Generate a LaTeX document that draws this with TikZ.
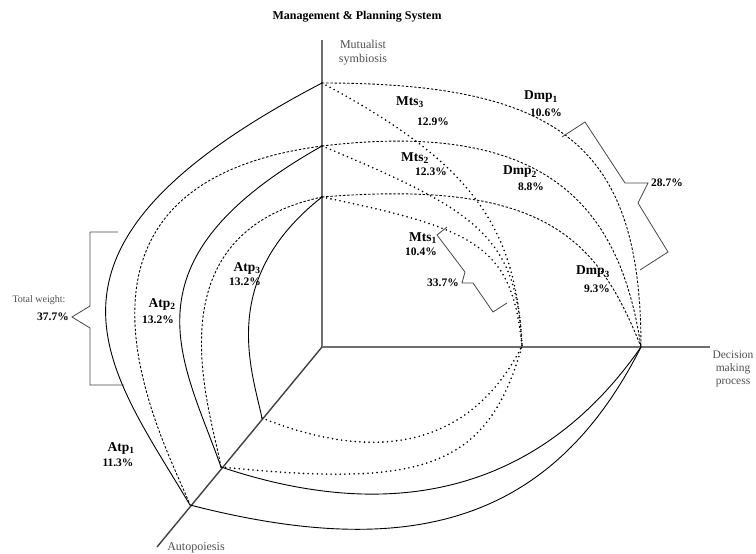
\documentclass[tikz,border=0pt]{standalone}
\usepackage{fontspec}
\setmainfont{Liberation Serif}
\usepackage{tikz}
\definecolor{axisink}{RGB}{110,110,110}
\definecolor{braceink}{RGB}{70,70,70}
\definecolor{captionink}{RGB}{80,80,80}
\newcommand{\wname}[2]{#1\textsubscript{#2}}

\begin{document}
\begin{tikzpicture}[x=1pt, y=-1pt,
  axisline/.style={axisink, line width=1.4pt},
  shell/.style={line width=0.9pt},
  dashshell/.style={line width=0.9pt, dash pattern=on 2.4pt off 1.8pt},
  dotshell/.style={line width=1.8pt, line cap=round, dash pattern=on 0pt off 4.6pt},
  bracket/.style={braceink, line width=0.8pt, line join=miter},
  wlabel/.style={inner sep=0pt, font=\fontsize{13.5}{15}\selectfont\bfseries},
  pct/.style={inner sep=0pt, font=\fontsize{11.5}{13}\selectfont\bfseries},
  caption/.style={inner sep=0pt, captionink, align=center, font=\fontsize{12}{13}\selectfont}]
  \useasboundingbox (0,0) rectangle (756,554);

  \coordinate (O) at (322,347);
  \coordinate (ztip) at (322,40);
  \coordinate (xtip) at (710,347);
  \coordinate (ytip) at (157,547);
  \coordinate (T1) at (322,83);
  \coordinate (T2) at (322,146);
  \coordinate (T3) at (322,197);
  \coordinate (A1) at (190,505);
  \coordinate (A2) at (221,467);
  \coordinate (A3) at (262,418);
  \coordinate (D) at (641,347);
  \coordinate (M) at (522,346);

  \draw[axisline] (O) -- (ztip);
  \draw[axisline] (O) -- (xtip);
  \draw[axisline, black!75] (O) -- (ytip);

  % autopoiesis wall
  \draw[shell] (T1) .. controls +(-318,166) and +(-82.5,-139) .. (A1);
  \draw[dashshell] (T2) .. controls +(-303,40) and +(-20,-53) .. (A1);
  \draw[shell] (T2) .. controls +(-206,116) and +(-37.5,-107) .. (A2);
  \draw[dashshell] (T3) .. controls +(-175,37.6) and +(-9.8,-56.3) .. (A2);
  \draw[shell] (T3) .. controls +(-104,82) and +(-10.4,-48.6) .. (A3);

  % decision wall
  \draw[dashshell] (T1) .. controls +(240,0) and +(0,-200) .. (D);
  \draw[dashshell] (T2) .. controls +(218,-26) and +(-22,-148) .. (D);
  \draw[dashshell] (T3) .. controls +(219,-17.6) and +(-44,-111.6) .. (D);
  \draw[dotshell] (T1) .. controls +(150,80) and +(-6,-120) .. (M);
  \draw[dotshell] (T2) .. controls +(156,65) and +(-5.5,-110) .. (M);
  \draw[dotshell] (T3) .. controls +(155,32) and +(-10,-100) .. (M);

  % floor
  \draw[shell] (A1) .. controls +(218,56) and +(-90,178) .. (D);
  \draw[shell] (A2) .. controls +(190,64) and +(-91,131) .. (D);
  \draw[dotshell] (A2) .. controls +(199,20) and +(-35,125) .. (M);
  \draw[dotshell] (A3) .. controls +(130,52) and +(-45,89) .. (M);

  \draw[bracket] (118,232) -- (90,232) -- (90,306) -- (72,317) coordinate (atptip) -- (90,328) -- (90,385) -- (124,385);
  \draw[bracket] (562,137) -- (585,122) -- (625,183) -- (648,183) coordinate (dmptip) -- (638,203) -- (668,252) -- (640,270);
  \draw[bracket] (447,227) -- (437,235) -- (465,272) -- (462,283) coordinate (mtstip) -- (473,283) -- (493,312) -- (507,303);

  \node[inner sep=0pt, font=\fontsize{12}{14}\selectfont\bfseries] (title) at (357,17) {Management \& Planning System};
  \node[caption, font=\fontsize{12}{14}\selectfont] (zname) at (363,53) {Mutualist\\symbiosis};
  \node[caption, font=\fontsize{11.5}{13}\selectfont] (xname) at (733,369) {Decision\\making\\process};
  \node[caption] (yname) at (196,548) {Autopoiesis};

  \node[wlabel] (mts3) at (410,102) {\wname{Mts}{3}};
  \node[pct] (mts3w) at (433,122) {12.9\%};
  \node[wlabel] (mts2) at (415,158) {\wname{Mts}{2}};
  \node[pct] (mts2w) at (431,172) {12.3\%};
  \node[wlabel] (mts1) at (423,238) {\wname{Mts}{1}};
  \node[pct] (mts1w) at (421,252) {10.4\%};
  \node[wlabel] (dmp1) at (541,97) {\wname{Dmp}{1}};
  \node[pct] (dmp1w) at (546,113) {10.6\%};
  \node[wlabel] (dmp2) at (520,172) {\wname{Dmp}{2}};
  \node[pct] (dmp2w) at (531,187) {8.8\%};
  \node[wlabel] (dmp3) at (593,272) {\wname{Dmp}{3}};
  \node[pct] (dmp3w) at (597,289) {9.3\%};
  \node[wlabel] (atp3) at (247,268) {\wname{Atp}{3}};
  \node[pct] (atp3w) at (245,282) {13.2\%};
  \node[wlabel] (atp2) at (162,304) {\wname{Atp}{2}};
  \node[pct] (atp2w) at (158,320) {13.2\%};
  \node[wlabel] (atp1) at (121,448) {\wname{Atp}{1}};
  \node[pct] (atp1w) at (118,463) {11.3\%};

  \node[pct, anchor=east] (mtssum) at ([xshift=-3pt]mtstip) {33.7\%};
  \node[pct, anchor=west] (dmpsum) at ([xshift=3pt]dmptip) {28.7\%};
  \node[pct, anchor=east] (atpsum) at ([xshift=-3pt]atptip) {37.7\%};
  \node[caption, font=\fontsize{10}{11}\selectfont] (atpnote) at (39,300) {Total weight:};
\end{tikzpicture}
\end{document}
